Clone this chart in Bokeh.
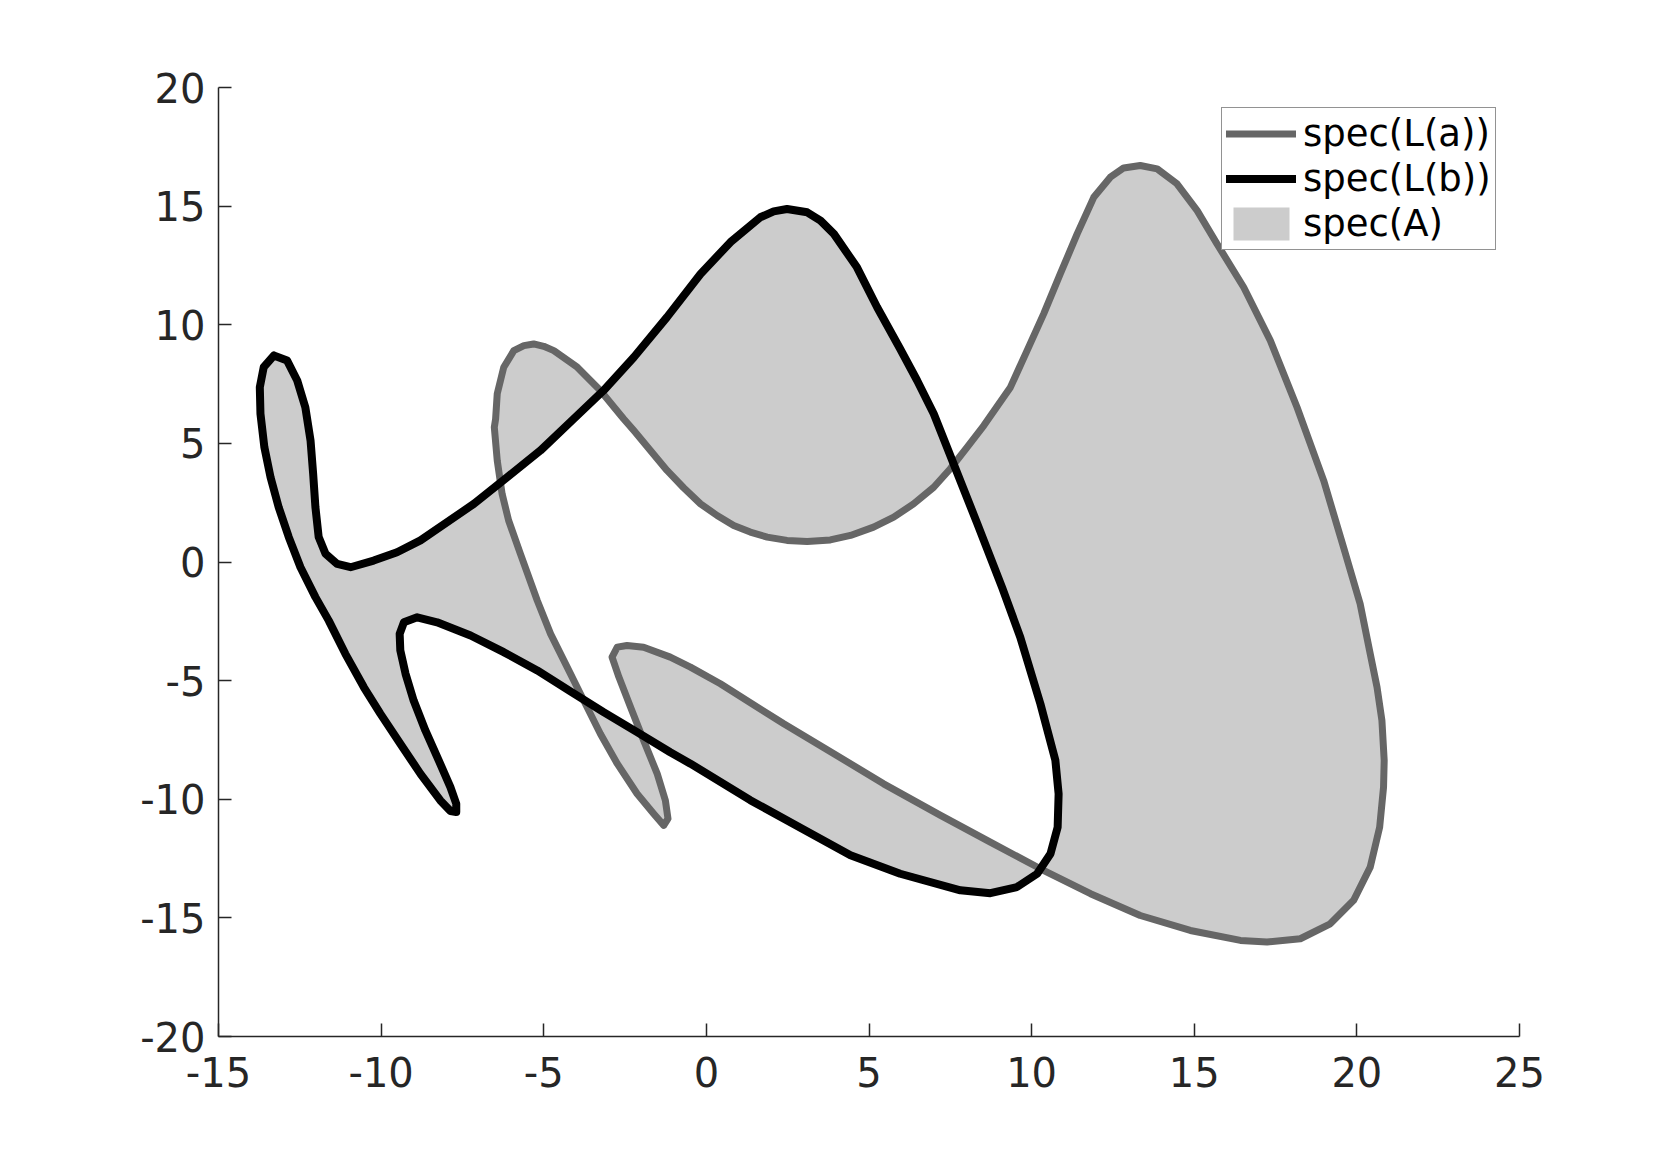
from bokeh.plotting import figure
from bokeh.models import FixedTicker, Legend, LegendItem, Range1d
from bokeh.embed import file_html
from bokeh.resources import INLINE

# ---- ticks ----
x_ticks = [-15, -10, -5, 0, 5, 10, 15, 20, 25]
x_tick_labels = ["-15", "-10", "-5", "0", "5", "10", "15", "20", "25"]
y_ticks = [-20, -15, -10, -5, 0, 5, 10, 15, 20]
y_tick_labels = ["-20", "-15", "-10", "-5", "0", "5", "10", "15", "20"]

series_names = ["spec(L(a))", "spec(L(b))", "spec(A)"]

# ---- spec(L(a)) : grey closed curve ----
la_x = [-5.31, -5.61, -5.92, -6.23, -6.43, -6.48, -6.52, -6.43, -6.28, -6.08,
        -5.72, -5.20, -4.79, -4.28, -3.77, -3.26, -2.74, -2.13, -1.62, -1.31,
        -1.18, -1.26, -1.51, -1.93, -2.33, -2.69, -2.90, -2.74, -2.44, -1.93,
        -1.11, -0.49, 0.43, 2.38, 3.92, 5.45, 7.20, 8.73, 10.27, 11.81,
        13.34, 14.88, 16.42, 17.24, 18.26, 19.18, 19.90, 20.41, 20.70, 20.82,
        20.84, 20.77, 20.62, 20.41, 20.10, 19.59, 18.98, 18.16, 17.34, 16.52,
        15.70, 15.09, 14.47, 13.86, 13.34, 12.83, 12.42, 11.91, 11.40, 10.88,
        10.37, 9.86, 9.35, 8.53, 8.02, 7.50, 6.99, 6.37, 5.76, 5.14,
        4.43, 3.81, 3.10, 2.48, 1.87, 1.35, 0.84, 0.33, -0.18, -0.70,
        -1.21, -1.72, -2.23, -2.54, -3.26, -3.97, -4.69, -5.00]
la_y = [9.19, 9.12, 8.91, 8.21, 7.09, 6.03, 5.68, 4.28, 2.87, 1.75,
        0.35, -1.62, -3.03, -4.43, -5.84, -7.24, -8.50, -9.77, -10.61, -11.10,
        -10.82, -10.05, -8.93, -7.52, -6.12, -4.85, -4.01, -3.59, -3.52, -3.59,
        -4.01, -4.43, -5.13, -6.82, -8.08, -9.35, -10.68, -11.81, -12.93, -13.98,
        -14.90, -15.53, -15.95, -16.02, -15.88, -15.25, -14.26, -12.86, -11.18, -9.49,
        -8.36, -6.68, -5.28, -3.87, -1.76, 0.62, 3.43, 6.52, 9.33, 11.58,
        13.41, 14.81, 15.94, 16.57, 16.71, 16.61, 16.22, 15.37, 13.83, 12.14,
        10.46, 8.91, 7.37, 5.75, 4.84, 3.93, 3.15, 2.45, 1.89, 1.47,
        1.12, 0.93, 0.86, 0.91, 1.05, 1.26, 1.54, 1.96, 2.45, 3.13,
        3.86, 4.70, 5.54, 6.03, 7.23, 8.21, 8.91, 9.09]

# ---- spec(L(b)) : black closed curve ----
lb_x = [-13.30, -12.89, -12.58, -12.33, -12.17, -12.09, -12.02, -11.92, -11.71, -11.35,
        -10.94, -10.23, -9.51, -8.79, -7.15, -6.13, -5.10, -4.08, -3.16, -2.23,
        -1.21, -0.18, 0.74, 1.66, 2.07, 2.48, 3.10, 3.51, 3.92, 4.63,
        5.25, 5.96, 6.48, 6.99, 7.60, 8.32, 9.10, 9.65, 10.27, 10.73,
        10.83, 10.80, 10.58, 10.17, 9.55, 8.73, 7.81, 5.96, 4.43, 2.89,
        1.35, -0.49, -1.11, -2.13, -3.16, -4.18, -5.20, -6.23, -7.25, -8.28,
        -8.89, -9.30, -9.43, -9.41, -9.25, -9.00, -8.64, -8.23, -7.87, -7.69,
        -7.69, -7.87, -8.18, -8.79, -9.41, -10.02, -10.53, -11.10, -11.61, -12.02,
        -12.48, -12.84, -13.15, -13.40, -13.59, -13.71, -13.73, -13.61]
lb_y = [8.70, 8.49, 7.65, 6.52, 5.12, 3.72, 2.31, 1.05, 0.35, -0.08,
        -0.22, 0.06, 0.41, 0.91, 2.45, 3.57, 4.70, 6.03, 7.23, 8.63,
        10.32, 12.14, 13.48, 14.53, 14.78, 14.88, 14.74, 14.39, 13.83, 12.42,
        10.74, 8.98, 7.65, 6.25, 4.14, 1.65, -1.10, -3.17, -5.98, -8.36,
        -9.77, -11.18, -12.30, -13.14, -13.70, -13.96, -13.84, -13.14, -12.36, -11.20,
        -10.04, -8.50, -8.02, -7.17, -6.33, -5.45, -4.57, -3.80, -3.10, -2.54,
        -2.33, -2.54, -3.03, -3.73, -4.71, -5.84, -7.10, -8.36, -9.49, -10.19,
        -10.54, -10.50, -10.05, -8.93, -7.66, -6.40, -5.28, -3.87, -2.47, -1.48,
        -0.22, 1.05, 2.31, 3.57, 4.84, 6.25, 7.37, 8.21]

AXIS_COLOR = "#262626"
GREY_LINE = "#666666"
FILL_GREY = "#cccccc"

p = figure(frame_width=1301, frame_height=949,
           x_range=Range1d(-15, 25), y_range=Range1d(-20, 20),
           output_backend="svg", toolbar_location=None,
           min_border_left=218, min_border_right=151,
           min_border_top=87, min_border_bottom=120)
p.outline_line_color = None
p.grid.visible = False
p.background_fill_color = "white"
p.border_fill_color = "white"

# spec(A): region inside exactly one of the two curves (rings have opposite orientation)
r_fill = p.multi_polygons(xs=[[[la_x, lb_x]]], ys=[[[la_y, lb_y]]],
                          fill_color=FILL_GREY, line_color=None)

r_a = p.line(la_x + la_x[:1], la_y + la_y[:1], line_color=GREY_LINE, line_width=7,
             line_join="round", line_cap="round")
r_b = p.line(lb_x + lb_x[:1], lb_y + lb_y[:1], line_color="black", line_width=8,
             line_join="round", line_cap="round")

for ax, ticks, labels in ((p.xaxis[0], x_ticks, x_tick_labels),
                          (p.yaxis[0], y_ticks, y_tick_labels)):
    ax.ticker = FixedTicker(ticks=ticks)
    ax.major_label_overrides = {t: l for t, l in zip(ticks, labels)}
    ax.axis_line_color = AXIS_COLOR
    ax.axis_line_width = 1.5
    ax.major_tick_line_color = AXIS_COLOR
    ax.major_tick_line_width = 1.5
    ax.major_tick_in = 13
    ax.major_tick_out = 0
    ax.minor_tick_line_color = None
    ax.major_label_text_font = "DejaVu Sans"
    ax.major_label_text_font_size = "40px"
    ax.major_label_text_color = AXIS_COLOR
p.xaxis.major_label_standoff = 20
p.yaxis.major_label_standoff = 13

legend = Legend(items=[LegendItem(label=series_names[0], renderers=[r_a]),
                       LegendItem(label=series_names[1], renderers=[r_b]),
                       LegendItem(label=series_names[2], renderers=[r_fill])],
                location=(1003, 786), orientation="vertical",
                label_text_font="DejaVu Sans", label_text_font_size="37px",
                label_text_color="black", glyph_width=70, glyph_height=41,
                label_height=41, label_standoff=7, padding=4, spacing=2, margin=0,
                border_line_color=AXIS_COLOR, border_line_width=1.5,
                background_fill_color="white", background_fill_alpha=1.0)
p.add_layout(legend)

open("out.html", "w").write(file_html(p, INLINE))
